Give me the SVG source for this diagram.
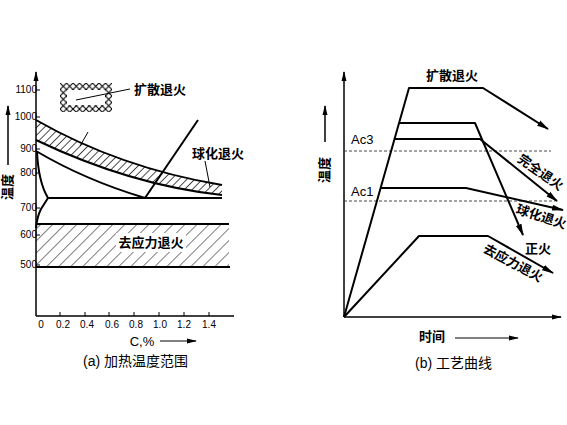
<svg xmlns="http://www.w3.org/2000/svg" width="567" height="425" viewBox="0 0 567 425">
<style>
.ln{fill:none;stroke:#000;stroke-width:2;stroke-linejoin:round}
.ax{fill:none;stroke:#000;stroke-width:1.5}
.thin{fill:none;stroke:#000;stroke-width:1}
.dash{fill:none;stroke:#333;stroke-width:0.9;stroke-dasharray:3,2}
.num{font-family:"Liberation Sans",Arial,sans-serif;font-size:10px;fill:#000}
.lbl{font-family:"Liberation Sans","Noto Sans CJK SC",sans-serif;font-size:13px;font-weight:bold;fill:#000}
.cap{font-family:"Liberation Sans","Noto Sans CJK SC",sans-serif;font-size:14px;fill:#000}
.ac{font-family:"Liberation Sans",Arial,sans-serif;font-size:13px;fill:#000}
</style>
<defs>
<marker id="ah" markerWidth="12" markerHeight="8" refX="11" refY="4" orient="auto" markerUnits="userSpaceOnUse"><path d="M0,1 L12,4 L0,7 Z" fill="#000"/></marker>
<marker id="ahs" markerWidth="10" markerHeight="6" refX="9" refY="3" orient="auto" markerUnits="userSpaceOnUse"><path d="M0,0.5 L10,3 L0,5.5 Z" fill="#000"/></marker>
<pattern id="h1" width="5.5" height="5.5" patternUnits="userSpaceOnUse" patternTransform="rotate(45)"><line x1="0" y1="0" x2="0" y2="5.5" stroke="#000" stroke-width="1.4"/></pattern>
<pattern id="h2" width="8.5" height="8.5" patternUnits="userSpaceOnUse" patternTransform="rotate(45)"><line x1="0" y1="0" x2="0" y2="8.5" stroke="#000" stroke-width="1"/></pattern>
<pattern id="xx" width="6.5" height="6.5" patternUnits="userSpaceOnUse" x="60" y="83"><path d="M0,0 L6.5,6.5 M6.5,0 L0,6.5" stroke="#000" stroke-width="1.1" fill="none"/></pattern>
</defs>

<rect width="567" height="425" fill="#fff"/>

<!-- LEFT CHART -->
<g id="left-axes">
<line class="ax" x1="36" y1="316" x2="36" y2="72" marker-end="url(#ahs)"/>
<line class="ax" x1="36" y1="316" x2="234" y2="316"/>
<g class="thin">
<line x1="36" y1="90" x2="40" y2="90"/><line x1="36" y1="117" x2="40" y2="117"/>
<line x1="36" y1="149" x2="40" y2="149"/><line x1="36" y1="173" x2="40" y2="173"/>
<line x1="36" y1="208" x2="40" y2="208"/><line x1="36" y1="235" x2="40" y2="235"/>
<line x1="36" y1="265" x2="40" y2="265"/>
<line x1="60" y1="316" x2="60" y2="312"/><line x1="85" y1="316" x2="85" y2="312"/>
<line x1="109" y1="316" x2="109" y2="312"/><line x1="134" y1="316" x2="134" y2="312"/>
<line x1="159" y1="316" x2="159" y2="312"/><line x1="184" y1="316" x2="184" y2="312"/>
<line x1="209" y1="316" x2="209" y2="312"/>
</g>
<g class="num" text-anchor="end">
<text x="37" y="93">1100</text><text x="37" y="120">1000</text>
<text x="37" y="152">900</text><text x="37" y="176">800</text>
<text x="37" y="211">700</text><text x="37" y="238">600</text>
<text x="37" y="268">500</text>
</g>
<g class="num" text-anchor="middle">
<text x="41" y="328">0</text><text x="63" y="328">0.2</text><text x="87" y="328">0.4</text>
<text x="112" y="328">0.6</text><text x="136" y="328">0.8</text><text x="160" y="328">1.0</text>
<text x="184" y="328">1.2</text><text x="209" y="328">1.4</text>
</g>
<text class="ac" x="142" y="346" text-anchor="middle">C,%</text>
<line class="thin" x1="160" y1="341" x2="196" y2="341" marker-end="url(#ahs)"/>
<line class="ax" x1="8" y1="165" x2="8" y2="106" marker-end="url(#ahs)"/>
<text class="lbl" transform="translate(12,187) rotate(-90)" text-anchor="middle">温度</text>
<text class="cap" x="83" y="366">(a) 加热温度范围</text>
</g>

<g id="diffusion-zone">
<path d="M60,83 H112 V112 H60 Z M67,90 V105 H105 V90 Z" fill="url(#xx)" fill-rule="evenodd"/>
<line class="thin" x1="76" y1="100" x2="130" y2="89"/>
<text class="lbl" x="134" y="94">扩散退火</text>
</g>

<g id="full-anneal-band">
<path d="M36,120 Q120,168 222,185 L222,195 Q130,185 36,140 Z" fill="url(#h1)"/>
<path class="ln" d="M36,120 Q120,168 222,185"/>
<path class="ln" d="M36,140 Q130,185 222,195"/>
<line class="thin" x1="80" y1="146" x2="88" y2="132"/>
</g>

<g id="lower-curves">
<path class="ln" d="M36,151 Q85,180 145,198"/>
<path class="ln" d="M37,152 C38,172 42,188 48,198 L41,209 Q37,217 36,228"/>
<line class="ln" x1="48" y1="198" x2="222" y2="198"/>
<line class="ln" x1="145" y1="198" x2="198" y2="120"/>
</g>

<g id="spheroidize">
<text class="lbl" x="192" y="158">球化退火</text>
<line class="thin" x1="205" y1="161" x2="210" y2="187"/>
</g>

<g id="stress-band">
<rect x="36" y="224" width="193" height="43" fill="url(#h2)"/>
<rect x="116" y="233" width="70" height="19" fill="#fff"/>
<line class="ln" x1="36" y1="224" x2="229" y2="224"/>
<line class="ln" x1="36" y1="267" x2="230" y2="267"/>
<text class="lbl" x="151" y="247" text-anchor="middle">去应力退火</text>
</g>

<!-- RIGHT CHART -->
<g id="right-axes">
<line class="ax" x1="344" y1="317" x2="344" y2="72" marker-end="url(#ahs)"/>
<line class="ax" x1="344" y1="317" x2="561" y2="317" marker-end="url(#ahs)"/>
<line class="dash" x1="344" y1="151" x2="551" y2="151"/>
<line class="dash" x1="344" y1="201" x2="555" y2="201"/>
<text class="ac" x="351" y="144">Ac3</text>
<text class="ac" x="351" y="196">Ac1</text>
<line class="ax" x1="325" y1="142" x2="325" y2="106" marker-end="url(#ahs)"/>
<text class="lbl" transform="translate(329,170) rotate(-90)" text-anchor="middle">温度</text>
<text class="lbl" x="432" y="341" text-anchor="middle">时间</text>
<line class="thin" x1="455" y1="338" x2="518" y2="338" marker-end="url(#ahs)"/>
<text class="cap" x="415" y="368">(b) 工艺曲线</text>
</g>

<g id="curve-diffusion">
<path class="ln" d="M344,317 L409,88 L483,88 L548,129" marker-end="url(#ah)"/>
<text class="lbl" x="452" y="80" text-anchor="middle">扩散退火</text>
</g>
<g id="curve-normalize">
<path class="ln" d="M399,123 L475,123 L523,235" marker-end="url(#ah)"/>
<text class="lbl" x="538" y="253" text-anchor="middle">正火</text>
</g>
<g id="curve-full-anneal">
<path class="ln" d="M395,139 L480,139 L557,201" marker-end="url(#ah)"/>
<text class="lbl" transform="translate(538,176) rotate(35)" text-anchor="middle">完全退火</text>
</g>
<g id="curve-spheroidize">
<path class="ln" d="M381,188 L466,188 L563,210" marker-end="url(#ah)"/>
<text class="lbl" transform="translate(540,221) rotate(18)" text-anchor="middle">球化退火</text>
</g>
<g id="curve-stress">
<path class="ln" d="M344,317 L419,236 L488,236 L553,273" marker-end="url(#ah)"/>
<text class="lbl" transform="translate(511,267) rotate(28)" text-anchor="middle">去应力退火</text>
</g>
</svg>
